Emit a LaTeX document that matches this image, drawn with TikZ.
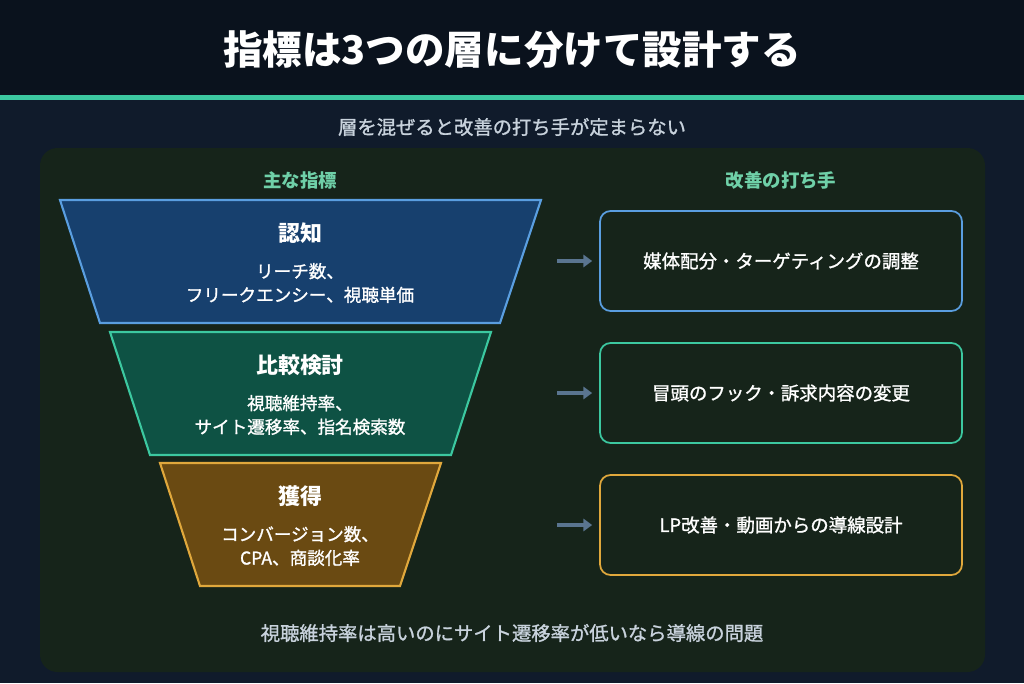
\documentclass[tikz,border=0pt]{standalone}
\usepackage{fontspec}
\setmainfont{Noto Sans CJK JP}
\newfontfamily\midfont{Noto Sans CJK JP}[FakeBold=1.2]
\usetikzlibrary{arrows.meta}
\definecolor{bgNavy}{HTML}{101B2B}
\definecolor{barDark}{HTML}{0A121D}
\definecolor{lineTeal}{HTML}{3CC8A0}
\definecolor{panelGreen}{HTML}{16241A}
\definecolor{textLight}{HTML}{C8D2DC}
\definecolor{headTeal}{HTML}{6FD0A8}
\definecolor{awBlue}{HTML}{17406E}
\definecolor{awBlueLine}{HTML}{5A9EE0}
\definecolor{cmpGreen}{HTML}{0E5244}
\definecolor{acqBrown}{HTML}{6A4A12}
\definecolor{acqLine}{HTML}{E0A83C}
\definecolor{arrowGray}{HTML}{5A7590}

\tikzset{
  stage/.style={line width=1.2pt},
  stagehead/.style={text=white, font=\fontsize{12.5}{14}\selectfont\bfseries},
  stagetext/.style={text=white, align=center, font=\fontsize{10}{13.5}\selectfont\midfont},
  action/.style={rounded corners=6pt, line width=1pt, fill=panelGreen, minimum width=7.24cm, minimum height=2cm, text=white, font=\fontsize{10.5}{12}\selectfont\midfont},
  flowarrow/.style={-{Triangle[length=5pt,width=7pt]}, line width=2pt, arrowGray},
  colhead/.style={text=headTeal, font=\fontsize{10.5}{12}\selectfont\bfseries}
}

\begin{document}
\begin{tikzpicture}[x=0.02cm, y=-0.02cm]
            \useasboundingbox (0,0) rectangle (1024,683);
            % Background
            \fill[bgNavy] (0,0) rectangle (1024,683);
            \fill[barDark] (0,0) rectangle (1024,95);
            \fill[lineTeal] (0,95) rectangle (1024,100);
            \node[text=white, font=\fontsize{22.5}{24}\selectfont\bfseries] (title) at (512,50) {指標は3つの層に分けて設計する};
            \node[text=textLight, font=\fontsize{11}{12}\selectfont\midfont] (subtitle) at (512,127) {層を混ぜると改善の打ち手が定まらない};
            \fill[panelGreen, rounded corners=10pt] (40,148) rectangle (985,672);
            
            % Column headers
            \node[colhead] (metricsHead) at (300,180) {主な指標};
            \node[colhead] (actionsHead) at (781,180) {改善の打ち手};
            
            % Funnel
            \draw[stage, draw=awBlueLine, fill=awBlue] (60,200) -- (541,200) -- (500,323) -- (100,323) -- cycle;
            \draw[stage, draw=lineTeal, fill=cmpGreen] (110,332) -- (491,332) -- (451,455) -- (150,455) -- cycle;
            \draw[stage, draw=acqLine, fill=acqBrown] (160,463) -- (441,463) -- (400,586) -- (200,586) -- cycle;
            
            \node[stagehead] (awHead) at (300,233) {認知};
            \node[stagetext] (awText) at (300,283) {リーチ数、\\フリークエンシー、視聴単価};
            \node[stagehead] (cmpHead) at (300,365) {比較検討};
            \node[stagetext] (cmpText) at (300,415) {視聴維持率、\\サイト遷移率、指名検索数};
            \node[stagehead] (acqHead) at (300,496) {獲得};
            \node[stagetext] (acqText) at (300,546) {コンバージョン数、\\CPA、商談化率};
            
            % Actions
            \node[action, draw=awBlueLine] (awAct) at (781,261) {媒体配分・ターゲティングの調整};
            \node[action, draw=lineTeal] (cmpAct) at (781,393) {冒頭のフック・訴求内容の変更};
            \node[action, draw=acqLine] (acqAct) at (781,525) {LP改善・動画からの導線設計};
            
            \coordinate (awFrom) at (557,261);
            \coordinate (cmpFrom) at (557,393);
            \coordinate (acqFrom) at (557,525);
            \draw[flowarrow] (awFrom) -- ([xshift=-0.14cm]awAct.west);
            \draw[flowarrow] (cmpFrom) -- ([xshift=-0.14cm]cmpAct.west);
            \draw[flowarrow] (acqFrom) -- ([xshift=-0.14cm]acqAct.west);
            
            \node[text=textLight, font=\fontsize{11}{12}\selectfont\midfont] (note) at (512,633) {視聴維持率は高いのにサイト遷移率が低いなら導線の問題};
\end{tikzpicture}
\end{document}
